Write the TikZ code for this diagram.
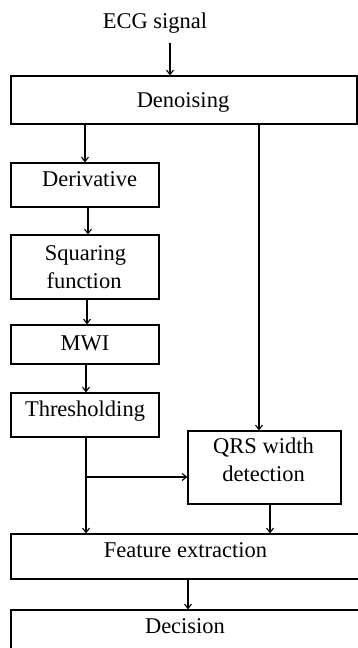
\documentclass[tikz,border=0pt]{standalone}
\usepackage{fontspec}
\setmainfont{Liberation Serif}
\usetikzlibrary{arrows.meta}
\begin{document}
\begin{tikzpicture}[x=1pt,y=-1pt,
  box/.style={draw=black,line width=1.1pt,rectangle,inner sep=0pt},
  lbl/.style={anchor=base,inner sep=0pt,font=\fontsize{22.5}{28}\selectfont,text=black},
  flow/.style={line width=1.1pt,-{Straight Barb[length=4.5pt,width=7pt,line width=1.1pt]}},
  link/.style={line width=1.1pt}]
\useasboundingbox (0,0) rectangle (358,648);

% boxes (drawn as paths so the outer ones can run past the page edge)
\node[box,minimum width=346pt,minimum height=48pt] (den) at (184,100) {};
\node[box,minimum width=148pt,minimum height=44pt] (der) at (85,185) {};
\node[box,minimum width=148pt,minimum height=64pt] (sq)  at (85,267) {};
\node[box,minimum width=148pt,minimum height=39pt] (mwi) at (85,344.5) {};
\node[box,minimum width=148pt,minimum height=44pt] (thr) at (85,415) {};
\node[box,minimum width=153pt,minimum height=73pt] (qrs) at (264.5,467.5) {};
\node[box,minimum width=348pt,minimum height=45pt] (fe)  at (185,556.5) {};
\node[box,minimum width=348pt,minimum height=45pt] (dec) at (185,632.5) {};

% labels
\node[lbl] (ecg)  at (155,28)  {ECG signal};
\node[lbl] (denT) at (183,107) {Denoising};
\node[lbl] (derT) at (89.5,186) {Derivative};
\node[lbl] (sqT1) at (85.5,260) {Squaring};
\node[lbl] (sqT2) at (84,288) {function};
\node[lbl] (mwiT) at (85,350) {MWI};
\node[lbl] (thrT) at (85,416) {Thresholding};
\node[lbl] (qrT1) at (263.5,453) {QRS width};
\node[lbl] (qrT2) at (263.5,481) {detection};
\node[lbl] (feT)  at (185.5,557) {Feature extraction};
\node[lbl] (decT) at (185,633) {Decision};

% connectors
\coordinate (inTop) at (170,43);
\draw[flow] (inTop) -- (inTop |- den.north);
\draw[flow] (den.south -| 85,0) -- (der.north -| 85,0);
\draw[flow] (der.south -| 88,0) -- (sq.north -| 88,0);
\draw[flow] (sq.south -| 87,0) -- (mwi.north -| 87,0);
\draw[flow] (mwi.south -| 86,0) -- (thr.north -| 86,0);
\draw[flow] (thr.south -| 86,0) -- (fe.north -| 86,0);
\coordinate (split) at (86,477);
\draw[flow] (split) -- (split -| qrs.west);
\draw[flow] (den.south -| 259,0) -- (qrs.north -| 259,0);
\draw[flow] (qrs.south -| 270,0) -- (fe.north -| 270,0);
\draw[flow] (fe.south -| 188,0) -- (dec.north -| 188,0);
\end{tikzpicture}
\end{document}
